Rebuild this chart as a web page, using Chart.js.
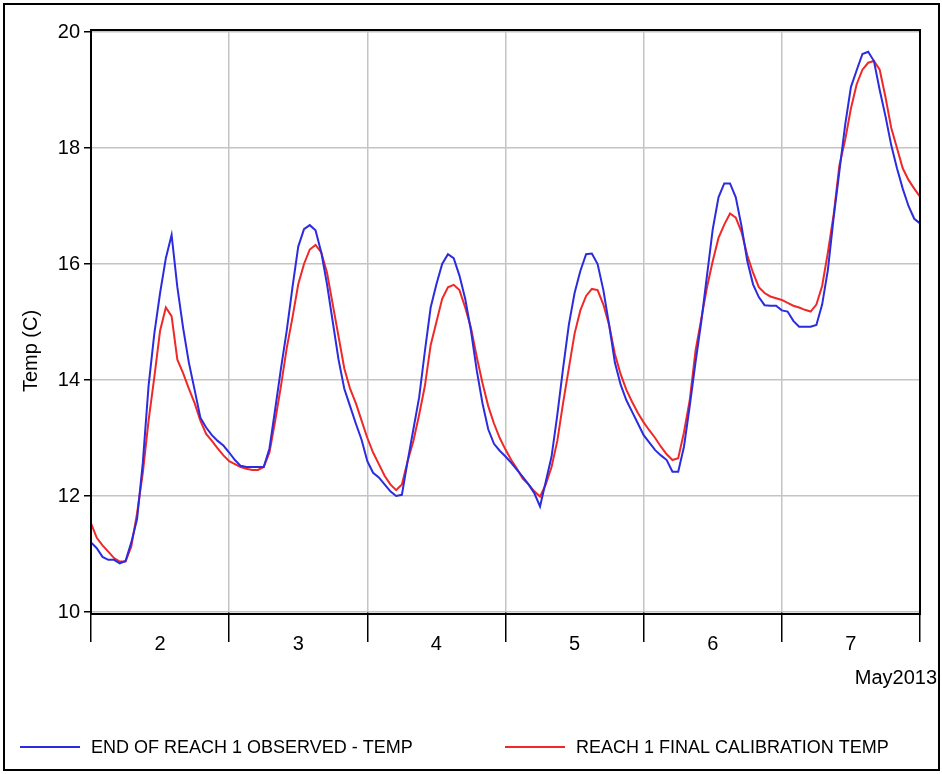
<!DOCTYPE html>
<html>
<head>
<meta charset="utf-8">
<title>Reach 1 temperature</title>
<script src="https://cdn.jsdelivr.net/npm/chart.js@4.4.1/dist/chart.umd.min.js"></script>
<style>
    html, body { margin: 0; padding: 0; background: #fff; }
    .frame {
        position: absolute;
        left: 3px; top: 3px;
        width: 937px; height: 768px;
        border: 2px solid #000;
        box-sizing: border-box;
    }
    #tempChart { position: absolute; left: 0; top: 0; }
</style>
</head>
<body>
<div class="frame"></div>
<canvas id="tempChart" width="942" height="774"></canvas>
<script>
// Hourly readings, May 2 00:00 through May 8 00:00 (145 values each)
const observedTemp = [
    11.2, 11.1, 10.95, 10.9, 10.9, 10.84, 10.88, 11.2, 11.6, 12.57, 13.9, 14.8,
    15.5, 16.1, 16.5, 15.6, 14.9, 14.3, 13.83, 13.35, 13.18, 13.05, 12.95, 12.87,
    12.75, 12.62, 12.52, 12.5, 12.5, 12.5, 12.5, 12.82, 13.5, 14.2, 14.85, 15.6,
    16.3, 16.6, 16.67, 16.58, 16.2, 15.65, 15.0, 14.35, 13.85, 13.55, 13.25, 12.97,
    12.6, 12.4, 12.32, 12.2, 12.08, 12.0, 12.02, 12.6, 13.15, 13.7, 14.5, 15.25,
    15.65, 16.0, 16.17, 16.1, 15.8, 15.4, 14.85, 14.17, 13.6, 13.15, 12.9, 12.78,
    12.68, 12.57, 12.45, 12.33, 12.2, 12.05, 11.82, 12.25, 12.68, 13.4, 14.2, 14.95,
    15.5, 15.88, 16.17, 16.18, 16.0, 15.55, 14.95, 14.3, 13.92, 13.65, 13.45, 13.25,
    13.05, 12.92, 12.79, 12.7, 12.62, 12.42, 12.42, 12.85, 13.55, 14.3, 15.0, 15.8,
    16.6, 17.15, 17.39, 17.39, 17.15, 16.65, 16.05, 15.65, 15.43, 15.29, 15.28, 15.28,
    15.2, 15.18, 15.02, 14.92, 14.92, 14.92, 14.95, 15.3, 15.9, 16.8, 17.6, 18.4,
    19.05, 19.34, 19.62, 19.66, 19.5, 19.0, 18.55, 18.05, 17.65, 17.3, 17.0, 16.78,
    16.7
];
const calibratedTemp = [
    11.53, 11.28, 11.15, 11.04, 10.93, 10.87, 10.87, 11.13, 11.7, 12.4, 13.3, 14.05,
    14.85, 15.25, 15.1, 14.35, 14.12, 13.85, 13.6, 13.3, 13.07, 12.95, 12.82, 12.7,
    12.6, 12.55, 12.5, 12.47, 12.45, 12.45, 12.5, 12.75, 13.3, 13.9, 14.55, 15.08,
    15.65, 16.0, 16.25, 16.33, 16.2, 15.85, 15.3, 14.75, 14.2, 13.85, 13.6, 13.3,
    13.0, 12.75, 12.55, 12.35, 12.2, 12.1, 12.2, 12.6, 12.95, 13.4, 13.9, 14.6,
    15.0, 15.4, 15.6, 15.64, 15.55, 15.25, 14.9, 14.4, 13.95, 13.55, 13.25, 13.0,
    12.8, 12.62, 12.47, 12.3, 12.2, 12.08, 11.99, 12.2, 12.5, 12.95, 13.6, 14.2,
    14.8, 15.2, 15.45, 15.57, 15.55, 15.3, 14.95, 14.45, 14.1, 13.83, 13.62, 13.43,
    13.27, 13.13, 13.0, 12.85, 12.72, 12.62, 12.65, 13.1, 13.65, 14.5, 15.05, 15.6,
    16.05, 16.45, 16.68, 16.87, 16.8, 16.55, 16.15, 15.85, 15.6, 15.5, 15.44, 15.41,
    15.38, 15.33, 15.28, 15.25, 15.21, 15.18, 15.3, 15.62, 16.2, 16.85, 17.7, 18.14,
    18.68, 19.1, 19.35, 19.47, 19.5, 19.35, 18.88, 18.35, 18.0, 17.65, 17.45, 17.3,
    17.16
];
const dayLabels = ['2', '3', '4', '5', '6', '7'];
const monthLabel = 'May2013';
const seriesNames = ['END OF REACH 1 OBSERVED - TEMP', 'REACH 1 FINAL CALIBRATION TEMP'];
const yTitle = 'Temp (C)';

const BLUE = '#2b2be0';
const RED = '#f02828';
const GRID = '#c4c4c4';
const FONT = '"Liberation Sans", Arial, sans-serif';

const toPoints = values => values.map((y, hour) => ({x: hour, y: y}));

// frame around the plot, axis title, month caption and the legend row
const decorations = {
    id: 'decorations',
    afterDraw(chart) {
        const {ctx, chartArea: a} = chart;
        ctx.save();
        ctx.strokeStyle = '#000';
        ctx.lineWidth = 2;
        ctx.strokeRect(a.left, a.top - 2, a.right - a.left, a.bottom - a.top + 4);

        ctx.fillStyle = '#000';
        ctx.font = '20px ' + FONT;
        ctx.textBaseline = 'middle';

        ctx.save();
        ctx.translate(31, 351);
        ctx.rotate(-Math.PI / 2);
        ctx.textAlign = 'center';
        ctx.fillText(yTitle, 0, 0);
        ctx.restore();

        ctx.textAlign = 'right';
        ctx.fillText(monthLabel, 937, 678);

        ctx.font = '18px ' + FONT;
        ctx.textAlign = 'left';
        const colors = [BLUE, RED];
        const starts = [20, 505];
        seriesNames.forEach((name, i) => {
            ctx.strokeStyle = colors[i];
            ctx.lineWidth = 2;
            ctx.beginPath();
            ctx.moveTo(starts[i], 747);
            ctx.lineTo(starts[i] + 60, 747);
            ctx.stroke();
            ctx.fillText(name, starts[i] + 71, 748);
        });
        ctx.restore();
    }
};

new Chart(document.getElementById('tempChart').getContext('2d'), {
    type: 'line',
    data: {
        datasets: [{
            label: seriesNames[0],
            data: toPoints(observedTemp),
            borderColor: BLUE,
            borderWidth: 2,
            pointRadius: 0,
            fill: false,
        }, {
            label: seriesNames[1],
            data: toPoints(calibratedTemp),
            borderColor: RED,
            borderWidth: 2,
            pointRadius: 0,
            fill: false,
        }]
    },
    options: {
        responsive: false,
        animation: false,
        layout: {
            padding: {left: 0, right: 22, top: 32, bottom: 102}
        },
        plugins: {
            legend: {display: false},
            tooltip: {enabled: false}
        },
        scales: {
            x: {
                type: 'linear',
                min: 0,
                max: 144,
                afterFit: scale => { scale.height = 60; },
                border: {display: false},
                grid: {
                    color: c => c.tick && c.tick.value % 24 === 0 ? GRID : 'rgba(0,0,0,0)',
                    tickColor: c => c.tick && c.tick.value % 24 === 0 ? '#000' : 'rgba(0,0,0,0)',
                    lineWidth: 1.5,
                    tickLength: 30,
                },
                ticks: {
                    stepSize: 12,
                    autoSkip: false,
                    maxRotation: 0,
                    padding: -10,
                    color: '#000',
                    font: {family: FONT, size: 20},
                    callback: v => v % 24 === 12 ? dayLabels[(v - 12) / 24] : ''
                }
            },
            y: {
                min: 10,
                max: 20,
                afterFit: scale => { scale.width = 91; },
                border: {display: false},
                grid: {
                    color: GRID,
                    tickColor: '#000',
                    lineWidth: 1.5,
                    tickLength: 7,
                },
                ticks: {
                    stepSize: 2,
                    padding: 4,
                    color: '#000',
                    font: {family: FONT, size: 20}
                }
            }
        }
    },
    plugins: [decorations]
});
</script>
</body>
</html>
